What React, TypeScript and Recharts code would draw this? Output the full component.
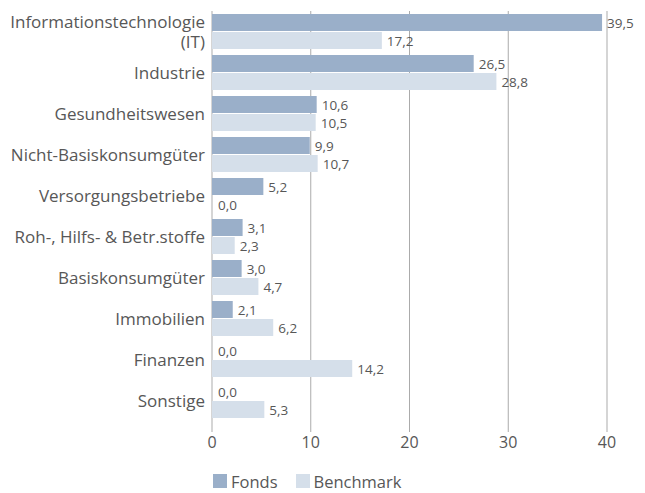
import React from 'react';
import { BarChart, Bar, XAxis, YAxis, CartesianGrid, LabelList } from 'recharts';

const sectors = [
  'Informationstechnologie (IT)',
  'Industrie',
  'Gesundheitswesen',
  'Nicht-Basiskonsumgüter',
  'Versorgungsbetriebe',
  'Roh-, Hilfs- & Betr.stoffe',
  'Basiskonsumgüter',
  'Immobilien',
  'Finanzen',
  'Sonstige',
];
const fonds = [39.5, 26.5, 10.6, 9.9, 5.2, 3.1, 3.0, 2.1, 0.0, 0.0];
const benchmark = [17.2, 28.8, 10.5, 10.7, 0.0, 2.3, 4.7, 6.2, 14.2, 5.3];
const xTicks = [0, 10, 20, 30, 40];

const data = sectors.map((name, i) => ({ name, Fonds: fonds[i], Benchmark: benchmark[i] }));

const FONT = '"Open Sans", Lato, sans-serif';
const TEXT = '#575757';
const GRID = '#ababab';
const C_FONDS = '#9aafc9';
const C_BENCH = '#d5dfea';

const fmt = (v: any) => Number(v).toFixed(1).replace('.', ',');

// only the IT label wraps in the original
const splitLabel = (s: string) => {
  const i = s.indexOf(' (');
  return i > 0 ? [s.slice(0, i), s.slice(i + 1)] : [s];
};

const SectorTick = (props: any) => {
  const { x, y, payload } = props;
  const lines = splitLabel(payload.value);
  const start = -((lines.length - 1) * 20) / 2;
  return (
    <text x={x + 1} y={y} textAnchor="end" fontSize={17} fill={TEXT} fontFamily={FONT}>
      {lines.map((l, i) => (
        <tspan key={i} x={x + 1} dy={i === 0 ? start + 6 : 20}>{l}</tspan>
      ))}
    </text>
  );
};

const ValueLabel = (props: any) => {
  const { x, y, width, height, value } = props;
  return (
    <text x={Number(x) + Number(width) + 5} y={Number(y) + Number(height) / 2 + 5}
      fontSize={13.5} fill={TEXT} fontFamily={FONT}>
      {fmt(value)}
    </text>
  );
};

// zero values get a minPointSize stub so their label shows, but the stub is not drawn
const barShape = (key: string, fill: string) => (p: any) => {
  if (p.payload && p.payload[key] === 0) return <g />;
  return <rect x={p.x} y={p.y} width={p.width} height={p.height} fill={fill} />;
};

export default function App() {
  return (
    <div style={{ fontFamily: FONT, position: 'relative', width: 629, height: 481 }}>
      <BarChart width={629} height={448} data={data} layout="vertical"
        margin={{ top: 3, right: 30, left: 0, bottom: 0 }} barSize={17} barGap={1}>
        <CartesianGrid horizontal={false} stroke={GRID} />
        <XAxis type="number" domain={[0, 40]} ticks={xTicks} axisLine={false}
          tickLine={{ stroke: GRID }} tickSize={11} tickMargin={5} height={35}
          tick={{ fontSize: 16, fill: TEXT, fontFamily: FONT }} />
        <YAxis type="category" dataKey="name" width={204} axisLine={false} tickLine={false}
          tick={<SectorTick />} interval={0} />
        <Bar dataKey="Fonds" fill={C_FONDS} minPointSize={1} shape={barShape('Fonds', C_FONDS)} isAnimationActive={false}>
          <LabelList dataKey="Fonds" content={<ValueLabel />} />
        </Bar>
        <Bar dataKey="Benchmark" fill={C_BENCH} minPointSize={1} shape={barShape('Benchmark', C_BENCH)} isAnimationActive={false}>
          <LabelList dataKey="Benchmark" content={<ValueLabel />} />
        </Bar>
      </BarChart>
      <div style={{ position: 'absolute', left: 205, top: 466, display: 'flex', alignItems: 'center', height: 14, fontSize: 16.5, color: TEXT }}>
        <span style={{ width: 14, height: 14, background: C_FONDS, display: 'inline-block', marginRight: 4 }} />
        <span style={{ marginRight: 18 }}>Fonds</span>
        <span style={{ width: 14, height: 14, background: C_BENCH, display: 'inline-block', marginRight: 4 }} />
        <span>Benchmark</span>
      </div>
    </div>
  );
}
